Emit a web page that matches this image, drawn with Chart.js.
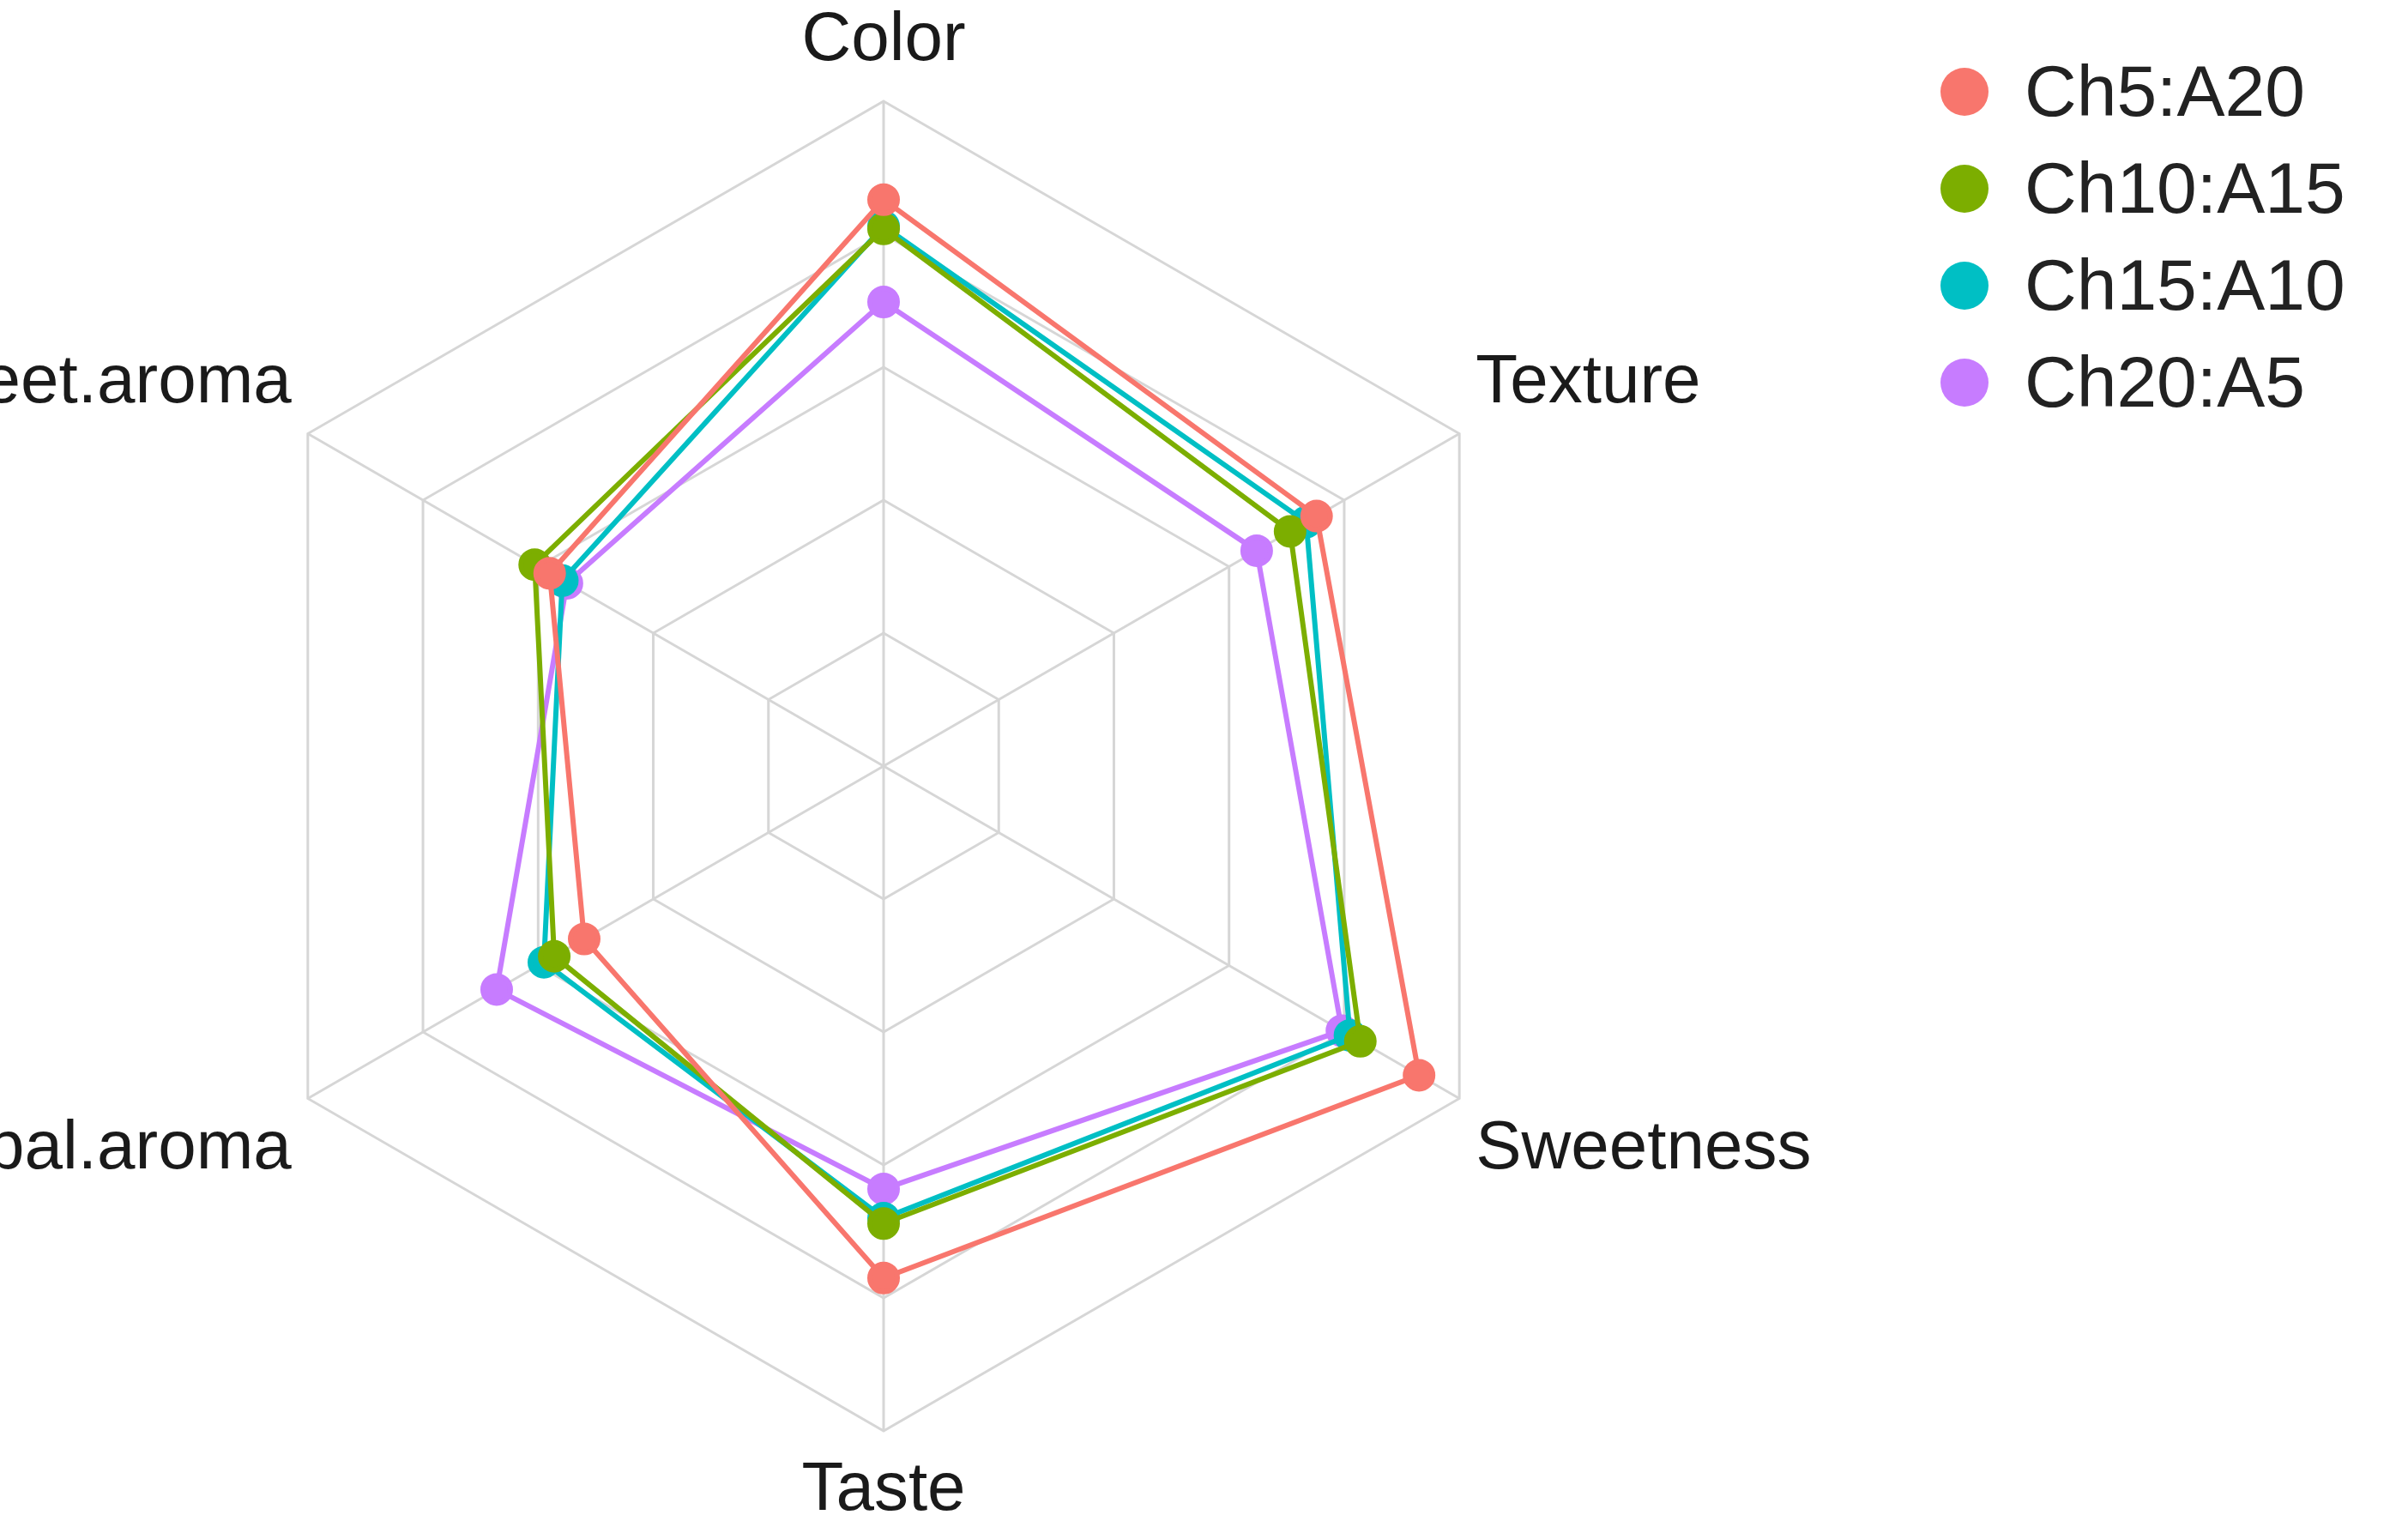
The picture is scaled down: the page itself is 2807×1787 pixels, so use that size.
<!DOCTYPE html>
<html>
<head>
<meta charset="utf-8">
<script src="https://cdn.jsdelivr.net/npm/chart.js@4"></script>
<style>
  body { margin: 0; background: #fff; font-family: "Liberation Sans", Arial, sans-serif; overflow: hidden; }
  #wrap { position: absolute; left: -300px; top: 0; width: 2660px; height: 1787px; }
  #legend { position: absolute; left: 2262px; top: 50px; }
  .item { display: flex; align-items: center; height: 113px; font-size: 84px; color: #222; }
  .dot { width: 56px; height: 56px; border-radius: 50%; margin-right: 42px; }
</style>
</head>
<body>
<div id="wrap"><canvas id="radar"></canvas></div>
<div id="legend"></div>
<script>
const categories = ['Color', 'Texture', 'Sweetness', 'Taste', 'Herbal.aroma', 'Sweet.aroma'];
const seriesNames = ['Ch5:A20', 'Ch10:A15', 'Ch15:A10', 'Ch20:A5'];
const ch5 = [4.26, 3.76, 4.65, 3.85, 2.60, 2.90];
const ch10 = [4.04, 3.53, 4.14, 3.44, 2.86, 3.03];
const ch15 = [4.06, 3.67, 4.05, 3.40, 2.95, 2.79];
const ch20 = [3.49, 3.24, 3.98, 3.18, 3.36, 2.75];
const colors = ['#F8766D', '#7CAE00', '#00BFC4', '#C77CFF'];
const allSeries = [ch5, ch10, ch15, ch20];

const legend = document.getElementById('legend');
seriesNames.forEach(function (n, i) {
    legend.innerHTML += '<div class="item"><span class="dot" style="background:' + colors[i] + '"></span>' + n + '</div>';
});

new Chart(document.getElementById('radar'), {
    type: 'radar',
    data: {
        labels: categories,
        datasets: allSeries.map(function (d, i) {
            return {
                label: seriesNames[i],
                data: d,
                borderColor: colors[i],
                backgroundColor: colors[i],
                pointBackgroundColor: colors[i],
                borderWidth: 6,
                pointRadius: 16,
                fill: false
            };
        })
    },
    options: {
        responsive: true,
        maintainAspectRatio: false,
        animation: false,
        layout: { padding: 0 },
        plugins: { legend: { display: false }, tooltip: { enabled: false } },
        scales: {
            r: {
                min: 0, max: 5,
                ticks: { display: false, stepSize: 1 },
                grid: { color: '#d6d6d6', lineWidth: 3 },
                angleLines: { color: '#d6d6d6', lineWidth: 3 },
                pointLabels: { font: { size: 80, family: 'Liberation Sans' }, color: '#1a1a1a', padding: 22 }
            }
        }
    }
});
</script>
</body>
</html>
